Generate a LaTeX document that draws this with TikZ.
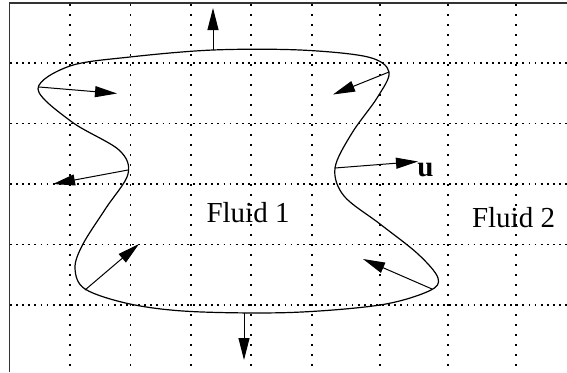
\documentclass[tikz,border=0pt]{standalone}
\usepackage{fontspec}
\setmainfont{Liberation Serif}
\usetikzlibrary{arrows.meta}
\begin{document}
\begin{tikzpicture}[x=1pt,y=-1pt,
 frame/.style={line width=1.3pt, draw=black!80},
 hgrid/.style={line width=1.2pt, dash pattern=on 1.8pt off 4.3pt},
 vgrid/.style={line width=1.2pt, dash pattern=on 2.2pt off 7.8pt},
 iface/.style={line width=1.2pt},
 vel/.style={line width=1pt, -{Triangle[length=22pt,width=11pt]}},
 lbl/.style={font=\fontsize{29}{34}\selectfont, anchor=base, inner sep=0pt}]
\useasboundingbox (0,0) rectangle (567,372);
% grid
\foreach \x in {70,130.5,191,251,312,380,448,516}
  \draw[vgrid] (\x,4) -- (\x,372);
\foreach \y in {63,123.5,184,244.5,305}
  \draw[hgrid] (10,\y) -- (567,\y);
% frame
\draw[frame] (9.3,372) -- (9.3,3) -- (567,3);
% interface
\draw[iface] plot[smooth cycle, tension=0.55] coordinates {
 (38,89) (70,66) (130,57) (213,50) (300,50) (368,57) (389,72)
 (377,98) (352,133) (335,168) (344,196) (380,224) (418,254) (438,278)
 (429,291) (380,305) (290,312.5) (191,311.5) (130,304) (85,289)
 (75,268) (83,244) (106,208) (128,174) (119,150) (72,122)};
% arrow anchors
\coordinate (a1) at (213,50);  \coordinate (b1) at (213,8);
\coordinate (a2) at (39,87);   \coordinate (b2) at (117,93.5);
\coordinate (a3) at (389,72);  \coordinate (b3) at (333,94.5);
\coordinate (a4) at (128,170); \coordinate (b4) at (53,184);
\coordinate (a5) at (335,168); \coordinate (b5) at (418,161.5);
\coordinate (a6) at (85,290);  \coordinate (b6) at (139,244);
\coordinate (a7) at (432,289); \coordinate (b7) at (363,259);
\coordinate (a8) at (244,312.5); \coordinate (b8) at (244,360);
\foreach \i in {1,...,8} \draw[vel] (a\i) -- (b\i);
% labels
\node[lbl] (f1) at (248,222) {Fluid 1};
\node[lbl] (f2) at (513.5,227) {Fluid 2};
\node[lbl] (u) at (425.5,176) {\textbf{u}};
\end{tikzpicture}
\end{document}
